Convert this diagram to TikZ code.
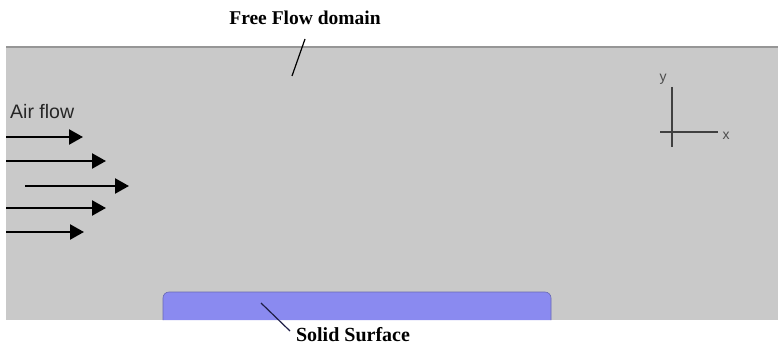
\documentclass[tikz,border=0pt]{standalone}
\usepackage{fontspec}
\setmainfont{Liberation Serif}
\newfontfamily\flowsans{Liberation Sans}
\usetikzlibrary{arrows.meta}

\definecolor{domaingray}{RGB}{201,201,201}
\definecolor{edgegray}{RGB}{150,150,150}
\definecolor{solidblue}{RGB}{138,138,240}
\definecolor{leadnavy}{RGB}{30,30,70}

\begin{document}
\begin{tikzpicture}[x=1pt,y=-1pt,
  flowarrow/.style={line width=2.4pt,-{Triangle[length=14pt,width=15pt]}},
  axisline/.style={line width=1.2pt,black!75},
  leader/.style={line width=1.2pt},
  every node/.style={inner sep=0pt}]

\useasboundingbox (0,0) rectangle (778,347);
\fill [white] (0,0) rectangle (778,347);

% free flow domain
\fill [domaingray] (6,47) rectangle (778,320);
\draw [edgegray,line width=2.5pt] (6,47) -- (778,47);

% solid surface
\draw [solidblue!75!black,line width=0.6pt,fill=solidblue,rounded corners=6] (163,320) -- (163,292) -- (551,292) -- (551,320);

% labels
\node [font=\bfseries\fontsize{19.5}{22}\selectfont] (freeflow) at (305,18) {Free Flow domain};
\coordinate (freetop) at (305,39);
\coordinate (freetip) at (292,76);
\draw [leader] (freetop) -- (freetip);

\node [font=\bfseries\fontsize{20}{24}\selectfont,anchor=base] (solid) at (353,341) {Solid Surface};
\coordinate (solidtip) at (261,303);
\coordinate (solidend) at (290,331);
\draw [leader,leadnavy] (solidtip) -- (solidend);

% air flow
\node [font=\flowsans\fontsize{19.5}{22}\selectfont,anchor=west,black!85] (airflow) at (10,112) {Air flow};
\foreach \xs/\xe/\yy in {6/83/137, 6/106/161, 25/129/186, 6/106/208, 6/84/232}
  \draw [flowarrow] (\xs,\yy) -- (\xe,\yy);

% axes
\coordinate (yend) at (672,87);
\coordinate (ybot) at (672,147);
\coordinate (xbeg) at (660,132);
\coordinate (xend) at (718,132);
\draw [axisline] (yend) -- (ybot);
\draw [axisline] (xbeg) -- (xend);
\node [font=\flowsans\fontsize{14}{16}\selectfont,black!70] (ylab) at (663,79) {y};
\node [font=\flowsans\fontsize{14}{16}\selectfont,black!70] (xlab) at (726,136) {x};

\end{tikzpicture}
\end{document}
